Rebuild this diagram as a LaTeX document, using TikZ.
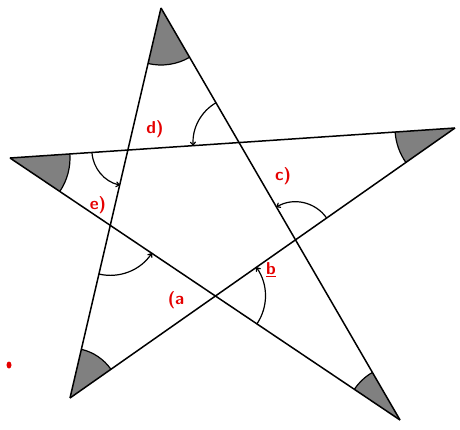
\documentclass[tikz,border=0pt]{standalone}
\usetikzlibrary{angles,arrows.meta}
\begin{document}
\begin{tikzpicture}[
        x=1pt, y=1pt,
        % Cạnh ngôi sao
        edge/.style={line width=1.5pt, draw=black},
        % Góc tô xám ở đỉnh
        tipangle/.style={
            draw=black, line width=1.2pt, fill=black!50,
            angle radius=#1
        },
        % Góc có mũi tên
        arcangle/.style={
            draw=black, line width=1.2pt,
            -{To[length=4pt, width=6pt]}, angle radius=#1
        },
        % Nhãn viết tay
        lbl/.style={text=red!90!black, font=\sffamily\LARGE\bfseries}
    ]
        \useasboundingbox (0,0) rectangle (460,429);

        % Đỉnh
        \coordinate (T) at (161,421);
        \coordinate (L) at (10,271);
        \coordinate (R) at (455,301);
        \coordinate (BL) at (70,31);
        \coordinate (BR) at (400,9);

        % Giao điểm bên trong
        \coordinate (P1) at (intersection of T--BL and L--R);
        \coordinate (P2) at (intersection of T--BR and L--R);
        \coordinate (P3) at (intersection of T--BR and R--BL);
        \coordinate (P4) at (intersection of R--BL and L--BR);
        \coordinate (P5) at (intersection of L--BR and T--BL);

        % Góc ở đỉnh
        \pic [tipangle=57] {angle = BL--T--BR};
        \pic [tipangle=60] {angle = BR--L--R};
        \pic [tipangle=60] {angle = L--R--BL};
        \pic [tipangle=50] {angle = R--BL--T};
        \pic [tipangle=55] {angle = T--BR--L};

        % Cạnh
        \draw [edge] (T) -- (BL);
        \draw [edge] (T) -- (BR);
        \draw [edge] (L) -- (R);
        \draw [edge] (L) -- (BR);
        \draw [edge] (R) -- (BL);

        % Góc có mũi tên
        \pic [arcangle=46] {angle = T--P2--L};
        \pic [arcangle=36] {angle = L--P1--BL};
        \pic [arcangle=50] {angle = BL--P5--BR};
        \pic [arcangle=38] {angle = R--P3--T};
        \pic [arcangle=50] {angle = BR--P4--R};

        % Nhãn
        \node [lbl] (la) at (176,129) {(a};
        \node [lbl] (lb) at (271,159) {\underline{b}};
        \node [lbl] (lc) at (283,253) {c)};
        \node [lbl] (ld) at (155,300) {d)};
        \node [lbl] (le) at (98,224) {e)};
        \fill [red!90!black] (9,64) ellipse (2.5pt and 3.5pt);

    \end{tikzpicture}
\end{document}
